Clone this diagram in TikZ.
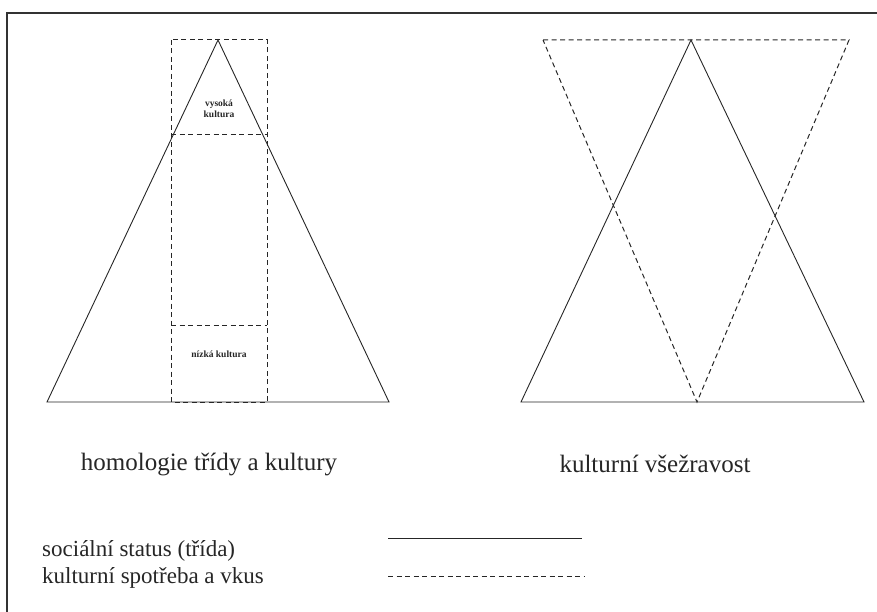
\documentclass[tikz,border=0pt]{standalone}
\usepackage{fontspec}
\setmainfont{Liberation Serif}
\begin{document}
\begin{tikzpicture}[x=1pt,y=-1pt,
  solidline/.style={draw=black!85,line width=0.9pt},
  dashline/.style={draw=black!85,line width=1pt,dash pattern=on 5pt off 3.5pt},
  bigtext/.style={font=\fontsize{23}{26}\selectfont,text=black!85,inner sep=0pt},
  captext/.style={font=\fontsize{25}{28}\selectfont,text=black!85,inner sep=0pt},
  smalltext/.style={font=\fontsize{9.5}{11.5}\selectfont\bfseries,text=black!85,align=center,inner sep=0pt}]
\useasboundingbox (0,0) rectangle (877,612);
% frame
\draw[draw=black!80,line width=1.5pt] (7,612) -- (7,13) -- (877,13);
% left diagram
\coordinate (LA) at (218,40);
\coordinate (LB1) at (47,402);
\coordinate (LB2) at (389,402);
\draw[solidline] (LB1) -- (LA) -- (LB2) -- cycle;
\coordinate (R1) at (171,40);
\coordinate (R2) at (267,402);
\coordinate (H1a) at (171,135);
\coordinate (H1b) at (267,135);
\coordinate (H2a) at (171,325);
\coordinate (H2b) at (267,325);
\draw[dashline] (R1) rectangle (R2);
\draw[dashline] (H1a) -- (H1b);
\draw[dashline] (H2a) -- (H2b);
\node[smalltext] (vys) at (219,109) {vysoká\\kultura};
\node[smalltext] (niz) at (219,354) {nízká kultura};
% right diagram
\coordinate (RA) at (691,40);
\coordinate (RB1) at (521,402);
\coordinate (RB2) at (864,402);
\draw[solidline] (RB1) -- (RA) -- (RB2) -- cycle;
\coordinate (IT1) at (543,40);
\coordinate (IT2) at (849,40);
\coordinate (IB) at (697,402);
\draw[dashline] (IT1) -- (IT2) -- (IB) -- cycle;
% captions
\node[captext] (cap1) at (209,464) {homologie třídy a kultury};
\node[captext] (cap2) at (655,464) {kulturní všežravost};
% legend
\node[bigtext,anchor=west] (leg1) at (42,551) {sociální status (třída)};
\node[bigtext,anchor=west] (leg2) at (42,578) {kulturní spotřeba a vkus};
\coordinate (L1a) at (388,538);
\coordinate (L1b) at (582,538);
\coordinate (L2a) at (388,576);
\coordinate (L2b) at (584,576);
\draw[solidline] (L1a) -- (L1b);
\draw[dashline] (L2a) -- (L2b);
\end{tikzpicture}
\end{document}
